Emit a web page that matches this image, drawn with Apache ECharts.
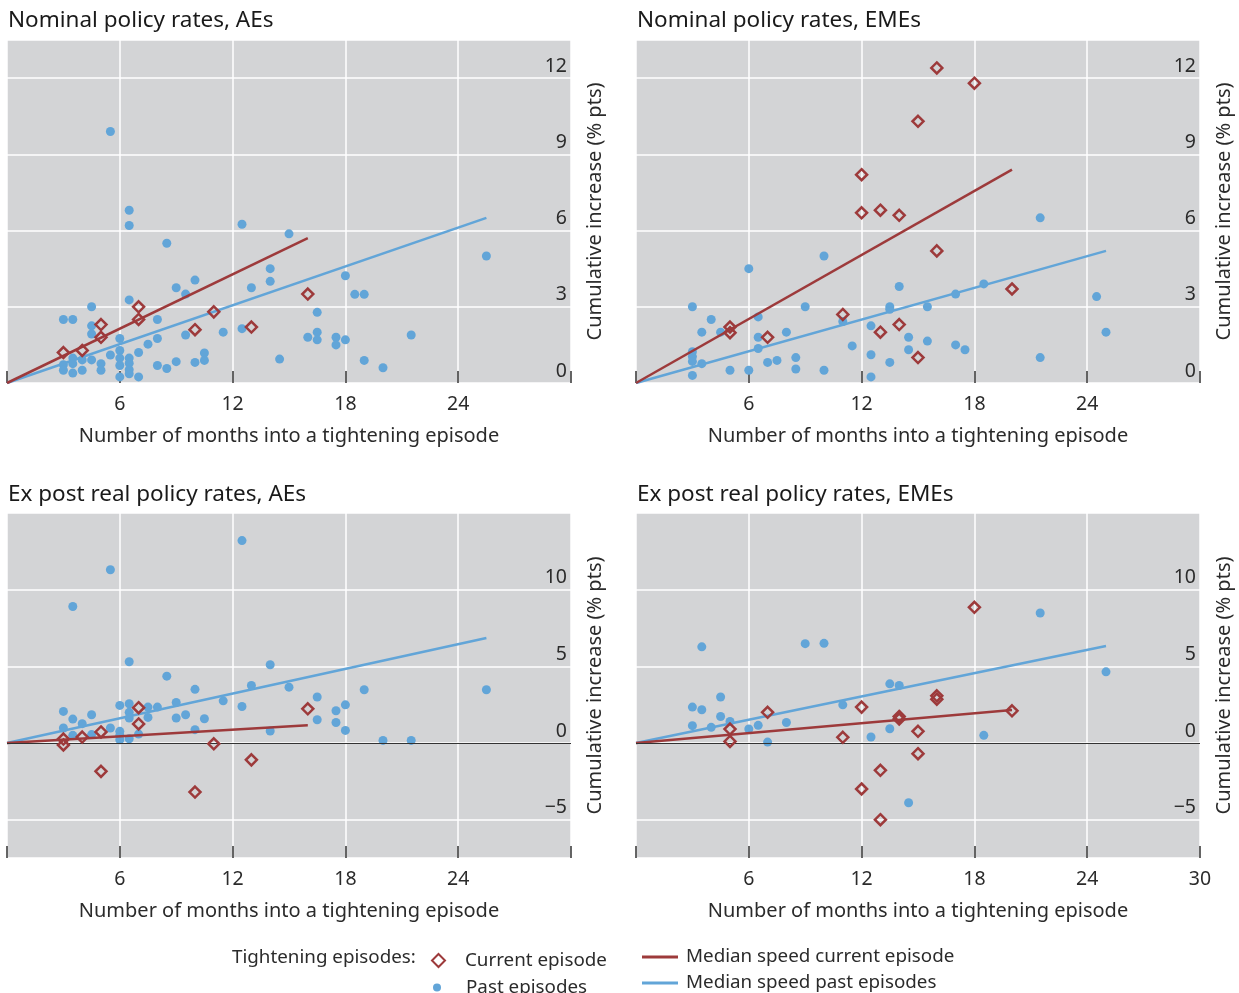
<!DOCTYPE html>
<html>
<head>
<meta charset="utf-8">
<script src="https://cdn.jsdelivr.net/npm/echarts@6/dist/echarts.min.js"></script>
<style>html,body{margin:0;padding:0;background:#fff}#c{width:1239px;height:993px}</style>
</head>
<body>
<div id="c"></div>
<script>
// ---------- data ----------
const panelTitles = ['Nominal policy rates, AEs', 'Nominal policy rates, EMEs', 'Ex post real policy rates, AEs', 'Ex post real policy rates, EMEs'];
const xTickLabels = [6, 12, 18, 24];
const xTickLabelsLast = [6, 12, 18, 24, 30];
const yTickLabelsTop = [0, 3, 6, 9, 12];
const yTickLabelsBottom = [-5, 0, 5, 10];

// Nominal, AEs
const nomAEPast = [[5.5,9.9],[6.5,6.8],[6.5,6.2],[8.5,5.5],[12.5,6.25],[15,5.87],[14,4.5],[14,4.0],[13,3.75],[10,4.05],[9,3.75],[9.5,3.5],[6.5,3.27],[4.5,3.0],[3,2.5],[3.5,2.5],[4.5,2.25],[4.5,1.93],[8,2.5],[6,1.75],[8,1.75],[7.5,1.53],[11.5,2.0],[12.5,2.14],[9.5,1.89],[10.5,1.18],[10.5,0.89],[14.5,0.94],[16,1.8],[16.5,2.78],[16.5,2.0],[16.5,1.7],[5.5,1.1],[6,1.28],[6,0.98],[6,0.69],[6,0.24],[6.5,0.98],[6.5,0.78],[6.5,0.52],[6.5,0.36],[7,1.2],[7,0.24],[8,0.69],[8.5,0.57],[9,0.84],[10,0.81],[5,0.76],[5,0.5],[4,0.91],[4,0.5],[3.5,0.98],[3.5,0.76],[3.5,0.39],[3,0.72],[3,0.5],[4.5,0.91],[18,4.22],[18.5,3.49],[19,3.49],[17.5,1.8],[17.5,1.5],[18,1.7],[19,0.89],[20,0.6],[21.5,1.89],[25.5,5.0]];
const nomAECurrent = [[3,1.2],[4,1.28],[5,2.3],[5,1.8],[7,3.0],[7,2.5],[10,2.1],[11,2.8],[13,2.2],[16,3.5]];
const nomAECurrentLine = [[0,0],[16,5.7]];
const nomAEPastLine = [[0,0],[25.5,6.5]];

// Nominal, EMEs
const nomEMEPast = [[3,3.0],[4,2.5],[3.5,2.0],[4.5,2.0],[3,1.23],[3,1.04],[3,0.85],[3.5,0.76],[3,0.3],[5,0.5],[6,0.5],[6,4.5],[6.5,2.6],[6.5,1.8],[6.5,1.36],[7,0.81],[7.5,0.89],[8,2.0],[8.5,1.0],[8.5,0.55],[9,3.0],[10,5.0],[10,0.5],[11,2.42],[11.5,1.46],[12.5,2.25],[12.5,1.11],[12.5,0.24],[13.5,3.0],[13.5,2.9],[14,3.8],[13.5,0.81],[14.5,1.8],[14.5,1.31],[15.5,3.0],[15.5,1.65],[17,3.5],[18.5,3.9],[17,1.5],[17.5,1.31],[21.5,6.5],[21.5,1.0],[24.5,3.4],[25,2.0]];
const nomEMECurrent = [[16,12.4],[15,10.3],[12,8.2],[12,6.7],[13,6.8],[14,6.6],[16,5.2],[11,2.7],[14,2.3],[13,2.0],[15,1.0],[5,2.2],[5,1.98],[7,1.8],[18,11.8],[20,3.7]];
const nomEMECurrentLine = [[0,0],[20,8.4]];
const nomEMEPastLine = [[0,0],[25,5.2]];

// Real, AEs
const realAEPast = [[5.5,11.3],[3.5,8.9],[12.5,13.2],[6.5,5.3],[14,5.1],[8.5,4.36],[10,3.5],[13,3.75],[15,3.64],[16.5,3.0],[16.5,1.52],[11.5,2.75],[12.5,2.38],[14,0.78],[6,2.45],[6.5,2.56],[6.5,2.0],[6.5,1.63],[7.5,2.34],[7.5,1.67],[8,2.34],[9,2.64],[9,1.63],[9.5,1.84],[10.5,1.58],[10,0.87],[3,2.06],[3.5,1.56],[4,1.26],[4.5,1.84],[3,0.98],[3.5,0.5],[4.5,0.55],[5.5,0.98],[6,0.76],[6,0.5],[6,0.21],[6.5,0.28],[7,0.58],[17.5,2.1],[17.5,1.34],[18,2.49],[18,0.82],[19,3.47],[20,0.17],[21.5,0.17],[25.5,3.47]];
const realAECurrent = [[3,0.26],[3,-0.13],[4,0.39],[5,0.72],[5,-1.85],[7,2.3],[7,1.24],[10,-3.2],[11,-0.05],[13,-1.1],[16,2.23]];
const realAECurrentLine = [[0,0],[16,1.15]];
const realAEPastLine = [[0,0],[25.5,6.85]];

// Real, EMEs
const realEMEPast = [[3.5,6.27],[9,6.48],[10,6.5],[3,2.34],[3.5,2.17],[4.5,3.0],[4.5,1.73],[5,1.41],[3,1.13],[4,1.02],[6,0.91],[6.5,1.15],[7,0.06],[8,1.34],[11,2.49],[12.5,0.39],[13.5,3.86],[14,3.75],[13.5,0.93],[14.5,-3.9],[21.5,8.48],[25,4.64],[18.5,0.5]];
const realEMECurrent = [[5,0.91],[5,0.1],[7,2.0],[11,0.37],[12,2.34],[12,-3.0],[13,-1.78],[13,-5.0],[14,1.73],[14,1.56],[15,0.76],[15,-0.7],[16,3.08],[16,2.86],[18,8.85],[20,2.1]];
const realEMECurrentLine = [[0,0],[20,2.15]];
const realEMEPastLine = [[0,0],[25,6.33]];

// ---------- styling ----------
const FONT = 'Noto Sans';
const RED = '#9d3a3b';
const BLUE = '#62a5d8';
const PLOT_BG = '#d3d4d6';
const TXT = '#2b2b2b';

const panels = [
  {past: nomAEPast, cur: nomAECurrent, curLine: nomAECurrentLine, pastLine: nomAEPastLine, top: true, xl: xTickLabels},
  {past: nomEMEPast, cur: nomEMECurrent, curLine: nomEMECurrentLine, pastLine: nomEMEPastLine, top: true, xl: xTickLabels},
  {past: realAEPast, cur: realAECurrent, curLine: realAECurrentLine, pastLine: realAEPastLine, top: false, xl: xTickLabels},
  {past: realEMEPast, cur: realEMECurrent, curLine: realEMECurrentLine, pastLine: realEMEPastLine, top: false, xl: xTickLabelsLast}
];
const gridPos = [
  {left: 7, top: 40, width: 564, height: 343},
  {left: 636, top: 40, width: 564, height: 343},
  {left: 7, top: 513, width: 564, height: 345},
  {left: 636, top: 513, width: 564, height: 345}
];
const titlePos = [[8, 9], [637, 9], [8, 483], [637, 483]];

const grids = [], xAxes = [], yAxes = [], series = [], titles = [];
panels.forEach((p, i) => {
  grids.push(Object.assign({show: true, backgroundColor: PLOT_BG, borderWidth: 0, containLabel: false}, gridPos[i]));
  titles.push({text: panelTitles[i], left: titlePos[i][0], top: titlePos[i][1], padding: 0,
    textStyle: {fontFamily: FONT, fontSize: 22.5, fontWeight: 'normal', color: '#1a1a1a'}});
  xAxes.push({
    gridIndex: i, type: 'value', min: 0, max: 30, interval: 6,
    axisLine: {show: false, onZero: false},
    axisTick: {show: true, inside: true, length: 12, lineStyle: {color: '#333', width: 1.5}},
    splitLine: {show: true, lineStyle: {color: '#ffffff', width: 1.5}},
    axisLabel: {fontFamily: FONT, fontSize: 19.5, color: TXT, margin: 11, showMinLabel: true, showMaxLabel: true,
      formatter: v => (p.xl.indexOf(v) >= 0 ? String(v) : '')},
    name: 'Number of months into a tightening episode', nameLocation: 'middle', nameGap: 43,
    nameTextStyle: {fontFamily: FONT, fontSize: 20, color: TXT}
  });
  const ylabels = p.top ? yTickLabelsTop : yTickLabelsBottom;
  const y = {
    gridIndex: i, type: 'value', position: 'right',
    axisLine: {show: false}, axisTick: {show: false},
    splitLine: {show: true, lineStyle: {color: '#ffffff', width: 1.5}},
    axisLabel: {inside: true, margin: 4, fontFamily: FONT, fontSize: 19.5, color: TXT, verticalAlign: 'bottom',
      padding: [0, 0, 2, 0],
      formatter: v => (ylabels.indexOf(v) >= 0 ? (v < 0 ? '\u2212' + Math.abs(v) : String(v)) : '')},
    name: 'Cumulative increase (% pts)', nameLocation: 'middle', nameRotate: 90, nameGap: 14,
    nameTextStyle: {fontFamily: FONT, fontSize: 20, color: TXT}
  };
  if (p.top) { y.min = 0; y.max = 13.5; y.interval = 3; }
  else { y.min = -7.5; y.max = 15; y.splitNumber = 5; }
  yAxes.push(y);

  const pastLineSeries = {
    name: 'Median speed past episodes', type: 'line', xAxisIndex: i, yAxisIndex: i,
    data: p.pastLine, showSymbol: false, symbol: 'none', z: 2,
    lineStyle: {color: BLUE, width: 2.5}, itemStyle: {color: BLUE}
  };
  if (!p.top) {
    pastLineSeries.markLine = {silent: true, symbol: 'none', label: {show: false}, animation: false,
      lineStyle: {color: '#333', width: 1, type: 'solid'}, data: [{yAxis: 0}]};
  }
  series.push({
    name: 'Past episodes', type: 'scatter', xAxisIndex: i, yAxisIndex: i, data: p.past,
    symbol: 'circle', symbolSize: 9, itemStyle: {color: BLUE, opacity: 1}, z: 3
  });
  series.push(pastLineSeries);
  series.push({
    name: 'Median speed current episode', type: 'line', xAxisIndex: i, yAxisIndex: i,
    data: p.curLine, showSymbol: false, symbol: 'none', z: 4,
    lineStyle: {color: RED, width: 2.5}, itemStyle: {color: RED}
  });
  series.push({
    name: 'Current episode', type: 'scatter', xAxisIndex: i, yAxisIndex: i, data: p.cur,
    symbol: 'diamond', symbolSize: 11,
    itemStyle: {color: 'rgba(0,0,0,0)', borderColor: RED, borderWidth: 2.5, opacity: 1}, z: 5
  });
});

const legendText = {fontFamily: FONT, fontSize: 18.8, color: TXT};
const option = {
  animation: false,
  backgroundColor: '#ffffff',
  title: titles,
  grid: grids,
  xAxis: xAxes,
  yAxis: yAxes,
  series: series,
  legend: [
    {left: 431, top: 951, padding: 0, selectedMode: false, itemWidth: 13, itemHeight: 13,
      data: [{name: 'Current episode', icon: 'diamond'}],
      textStyle: Object.assign({padding: [0, 0, 0, 15]}, legendText)},
    {left: 433, top: 978, padding: 0, selectedMode: false, itemWidth: 8, itemHeight: 8,
      data: [{name: 'Past episodes', icon: 'circle'}],
      textStyle: Object.assign({padding: [0, 0, 0, 20]}, legendText)},
    {left: 642, top: 946, padding: 0, selectedMode: false, itemWidth: 36, itemHeight: 3,
      data: [{name: 'Median speed current episode', icon: 'rect'}],
      textStyle: Object.assign({padding: [0, 0, 0, 3], lineHeight: 22}, legendText)},
    {left: 642, top: 972, padding: 0, selectedMode: false, itemWidth: 36, itemHeight: 3,
      data: [{name: 'Median speed past episodes', icon: 'rect'}],
      textStyle: Object.assign({padding: [0, 0, 0, 3], lineHeight: 22}, legendText)}
  ],
  graphic: [
    {type: 'text', left: 232, top: 948, silent: true,
      style: {text: 'Tightening episodes:', font: '18.8px "Noto Sans"', fill: TXT}}
  ]
};
const chart = echarts.init(document.getElementById('c'), null, {renderer: 'canvas'});
chart.setOption(option);
</script>
</body>
</html>
